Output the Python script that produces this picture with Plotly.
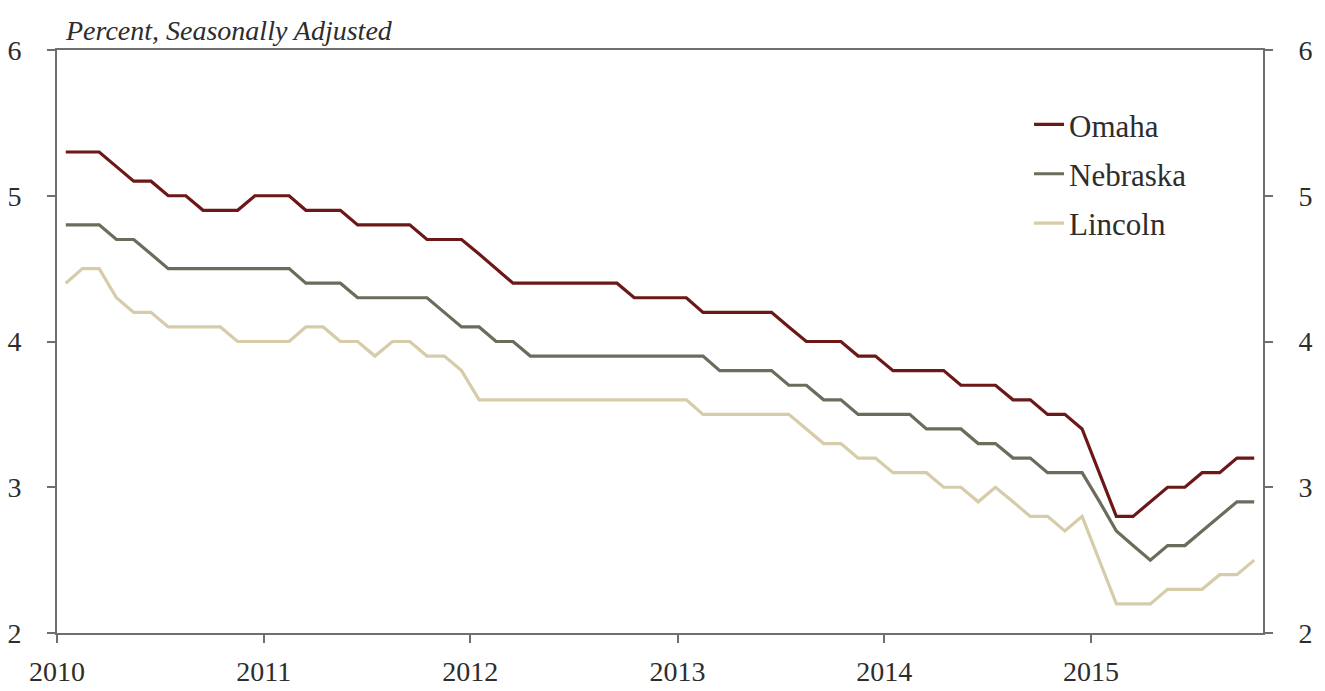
import plotly.graph_objects as go
import pandas as pd

months = pd.date_range("2010-01-01", "2015-10-01", freq="MS").strftime("%Y-%m-%d").tolist()

omaha = [5.3,5.3,5.3,5.2,5.1,5.1,5.0,5.0,4.9,4.9,4.9,5.0,
         5.0,5.0,4.9,4.9,4.9,4.8,4.8,4.8,4.8,4.7,4.7,4.7,
         4.6,4.5,4.4,4.4,4.4,4.4,4.4,4.4,4.4,4.3,4.3,4.3,
         4.3,4.2,4.2,4.2,4.2,4.2,4.1,4.0,4.0,4.0,3.9,3.9,
         3.8,3.8,3.8,3.8,3.7,3.7,3.7,3.6,3.6,3.5,3.5,3.4,
         3.1,2.8,2.8,2.9,3.0,3.0,3.1,3.1,3.2,3.2]

nebraska = [4.8,4.8,4.8,4.7,4.7,4.6,4.5,4.5,4.5,4.5,4.5,4.5,
            4.5,4.5,4.4,4.4,4.4,4.3,4.3,4.3,4.3,4.3,4.2,4.1,
            4.1,4.0,4.0,3.9,3.9,3.9,3.9,3.9,3.9,3.9,3.9,3.9,
            3.9,3.9,3.8,3.8,3.8,3.8,3.7,3.7,3.6,3.6,3.5,3.5,
            3.5,3.5,3.4,3.4,3.4,3.3,3.3,3.2,3.2,3.1,3.1,3.1,
            2.9,2.7,2.6,2.5,2.6,2.6,2.7,2.8,2.9,2.9]

lincoln = [4.4,4.5,4.5,4.3,4.2,4.2,4.1,4.1,4.1,4.1,4.0,4.0,
           4.0,4.0,4.1,4.1,4.0,4.0,3.9,4.0,4.0,3.9,3.9,3.8,
           3.6,3.6,3.6,3.6,3.6,3.6,3.6,3.6,3.6,3.6,3.6,3.6,
           3.6,3.5,3.5,3.5,3.5,3.5,3.5,3.4,3.3,3.3,3.2,3.2,
           3.1,3.1,3.1,3.0,3.0,2.9,3.0,2.9,2.8,2.8,2.7,2.8,
           2.5,2.2,2.2,2.2,2.3,2.3,2.3,2.4,2.4,2.5]

series = [("Omaha", omaha, "rgb(108,24,24)"),
          ("Nebraska", nebraska, "rgb(108,108,92)"),
          ("Lincoln", lincoln, "rgb(214,204,170)")]

year_ticks = ["2010-01-01", "2011-01-01", "2012-01-01", "2013-01-01", "2014-01-01", "2015-01-01"]
year_labels = ["2010", "2011", "2012", "2013", "2014", "2015"]
y_ticks = [2, 3, 4, 5, 6]

FONT = "Liberation Serif"
AXIS = "rgb(110,110,110)"
TXT = "rgb(45,45,45)"
TICKSIZE = 28

fig = go.Figure()
for name, vals, color in series:
    fig.add_trace(go.Scatter(
        x=months, y=vals, name=name, mode="lines",
        line=dict(color=color, width=3.2),
        xperiod="M1", xperiodalignment="middle",
        legendgroup=name,
    ))
# invisible trace for the right axis
fig.add_trace(go.Scatter(x=months, y=omaha, yaxis="y2", mode="lines",
                         line=dict(width=0), opacity=0, showlegend=False,
                         hoverinfo="skip", xperiod="M1", xperiodalignment="middle"))

fig.update_layout(
    width=1325, height=691,
    margin=dict(l=57, r=62, t=50, b=58),
    paper_bgcolor="white", plot_bgcolor="white",
    font=dict(family=FONT, size=TICKSIZE, color=TXT),
    showlegend=True,
    legend=dict(x=0.806, y=0.918, xanchor="left", yanchor="top",
                font=dict(family=FONT, size=31, color=TXT),
                bgcolor="rgba(0,0,0,0)", tracegroupgap=6,
                itemwidth=30),
    xaxis=dict(
        type="date", range=["2010-01-01", "2015-11-01"],
        tickvals=year_ticks, ticktext=year_labels,
        showgrid=False, zeroline=False, automargin=False,
        showline=True, linecolor=AXIS, linewidth=2, mirror=True,
        ticks="outside", ticklen=8, tickwidth=1.5, tickcolor=AXIS,
        tickfont=dict(family=FONT, size=TICKSIZE, color=TXT),
        ticklabelstandoff=4,
    ),
    yaxis=dict(
        range=[2, 6], tickvals=y_ticks, automargin=False,
        showgrid=False, zeroline=False,
        showline=True, linecolor=AXIS, linewidth=2,
        ticks="outside", ticklen=8, tickwidth=1.5, tickcolor=AXIS,
        tickfont=dict(family=FONT, size=TICKSIZE, color=TXT),
        ticklabelstandoff=20,
    ),
    yaxis2=dict(
        range=[2, 6], tickvals=y_ticks, overlaying="y", side="right",
        showgrid=False, zeroline=False, automargin=False,
        showline=True, linecolor=AXIS, linewidth=2,
        ticks="outside", ticklen=8, tickwidth=1.5, tickcolor=AXIS,
        tickfont=dict(family=FONT, size=TICKSIZE, color=TXT),
        ticklabelstandoff=20,
    ),
    annotations=[dict(
        text="<i>Percent, Seasonally Adjusted</i>",
        xref="paper", yref="paper", x=0, y=1, xanchor="left", yanchor="bottom",
        xshift=6, yshift=2, showarrow=False,
        font=dict(family=FONT, size=28, color=TXT),
    )],
)

fig.write_html("out.html")
